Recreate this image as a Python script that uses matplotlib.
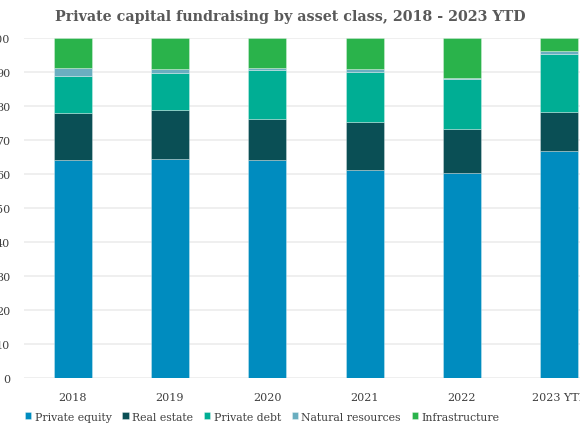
import matplotlib
matplotlib.use("Agg")
import matplotlib.pyplot as plt
import numpy as np

# datos (porcentaje del capital total por año)
anios = ["2018", "2019", "2020", "2021", "2022", "2023 YTD"]
private_equity = [64.1, 64.4, 64.1, 61.0, 60.3, 66.7]
real_estate = [13.9, 14.3, 12.2, 14.4, 13.0, 11.5]
private_debt = [10.9, 10.9, 14.2, 14.7, 14.6, 17.2]
natural_resources = [2.3, 1.4, 0.6, 0.9, 0.4, 0.9]
infrastructure = [8.8, 9.0, 8.9, 9.0, 11.7, 3.7]

series = [
    ("Private equity", private_equity, "#008cbf"),
    ("Real estate", real_estate, "#0a4f55"),
    ("Private debt", private_debt, "#00ae94"),
    ("Natural resources", natural_resources, "#6aaec0"),
    ("Infrastructure", infrastructure, "#2ab34b"),
]

plt.rcParams['font.family'] = ['DejaVu Serif']

fig = plt.figure(figsize=(5.8, 4.35), dpi=100)
# el area del grafico se sale por la derecha, como en la imagen original
ax = fig.add_axes([24 / 580, 0.1294, 584 / 580, 0.7809])

x = np.arange(len(anios))
base = np.zeros(len(anios))
for nombre, valores, color in series:
    ax.bar(x, valores, 0.39, bottom=base, color=color, label=nombre,
           edgecolor=(1, 1, 1, 0.35), linewidth=0.6, zorder=3)
    base = base + np.array(valores)

ax.set_xlim(-0.5, 5.5)
ax.set_ylim(0, 100)
ax.set_yticks(range(0, 101, 10))
ax.set_xticks(x)
ax.set_xticklabels(anios)
ax.tick_params(axis='both', length=0, labelsize=8, colors="#404040")
ax.tick_params(axis='y', pad=10)
ax.tick_params(axis='x', pad=10)
ax.grid(True, axis='y', color="#efefef", linewidth=1.4, zorder=0)
for s in ax.spines.values():
    s.set_visible(False)

fig.text(0.5, 0.96, "Private capital fundraising by asset class, 2018 - 2023 YTD",
         ha='center', va='center', fontsize=10.3, fontweight='bold', color="#595959")

fig.legend(loc='center', bbox_to_anchor=(0.452, 0.04), ncol=5, frameon=False,
           fontsize=7.8, handlelength=0.6, handleheight=0.6, handletextpad=0.3,
           columnspacing=1.0, labelcolor="#404040")

fig.savefig("out.png", dpi=100)
